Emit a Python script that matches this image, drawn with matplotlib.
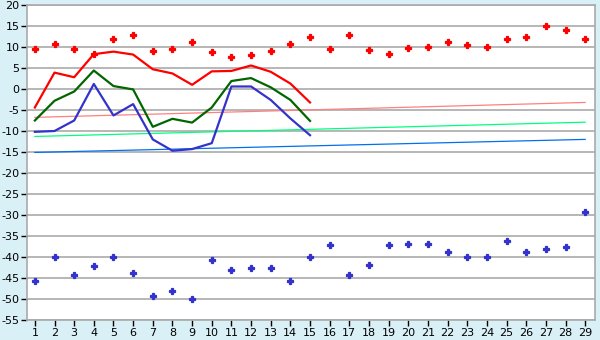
import numpy as np
import matplotlib
matplotlib.use('Agg')
import matplotlib.pyplot as plt

# days on the category axis
days = list(range(1, 30))

# red markers (top) and blue markers (bottom)
red_points = [9.5, 10.6, 9.5, 8.3, 11.8, 12.9, 9.0, 9.5, 11.1, 8.7,
              7.5, 8.0, 9.0, 10.6, 12.3, 9.5, 12.8, 9.2, 8.3, 9.7,
              9.9, 11.1, 10.4, 9.9, 11.8, 12.3, 14.9, 14.0, 11.8]
blue_points = [-45.6, -40.1, -44.4, -42.2, -40.1, -43.9, -49.4, -48.2, -50.1, -40.6,
               -43.2, -42.7, -42.7, -45.6, -40.1, -37.2, -44.4, -41.8, -37.2, -36.8,
               -36.8, -38.9, -40.1, -40.1, -36.3, -38.9, -38.2, -37.7, -29.4]

# lines for days 1..15
line_days = list(range(1, 16))
red_line = [-4.4, 3.9, 2.8, 8.3, 8.9, 8.2, 4.7, 3.7, 1.0, 4.2, 4.3, 5.6, 4.1, 1.3, -3.2]
green_line = [-7.5, -2.8, -0.6, 4.4, 0.7, -0.1, -9.0, -7.1, -8.0, -4.4, 1.9, 2.6, 0.4, -2.6, -7.6]
blue_line = [-10.2, -10.0, -7.5, 1.2, -6.3, -3.6, -12.0, -14.7, -14.3, -12.9, 0.6, 0.6, -2.6, -7.0, -11.0]

# trend lines, values at day 1 and day 29
trend_days = [1, 29]
pink_trend = [-6.75, -3.2]
lgreen_trend = [-11.3, -7.9]
lblue_trend = [-15.1, -12.0]

yticks = list(range(-55, 25, 5))

plt.rcParams['font.family'] = ['DejaVu Sans']
plt.rcParams['axes.unicode_minus'] = False

fig = plt.figure(figsize=(6, 3.4), dpi=100)
fig.patch.set_facecolor('#d9f0f6')
ax = fig.add_axes([27/600, 1-320/340, 568/600, 315/340])
ax.set_facecolor('white')

ax.set_xlim(0.6, 29.5)
ax.set_ylim(-55, 20)

for y in yticks:
    ax.axhline(y, color='#aaaaaa', lw=1.2, zorder=1)

ax.plot(trend_days, pink_trend, color='#ff8080', lw=0.9, zorder=2)
ax.plot(trend_days, lgreen_trend, color='#00ff80', lw=0.9, zorder=2)
ax.plot(trend_days, lblue_trend, color='#0070f0', lw=0.9, zorder=2)

ax.plot(line_days, red_line, color='#ff0000', lw=1.6, zorder=3)
ax.plot(line_days, green_line, color='#006600', lw=1.6, zorder=3)
ax.plot(line_days, blue_line, color='#3333cc', lw=1.6, zorder=3)

ax.plot(days, red_points, ls='none', marker='P', ms=4, color='#ff0000', mew=0.9, zorder=4)
ax.plot(days, blue_points, ls='none', marker='P', ms=4, color='#3333cc', mew=0.9, zorder=4)

ax.set_xticks(days)
ax.set_xticklabels([str(d) for d in days])
ax.set_yticks(yticks)
ax.set_yticklabels([str(y) for y in yticks])
ax.tick_params(axis='both', direction='out', length=4, width=1, colors='black',
               labelsize=8, pad=1.5)

for side in ['top', 'right', 'left', 'bottom']:
    ax.spines[side].set_color('#aaaaaa')
    ax.spines[side].set_linewidth(1.2)

fig.savefig('out.png', dpi=100, facecolor=fig.get_facecolor())
